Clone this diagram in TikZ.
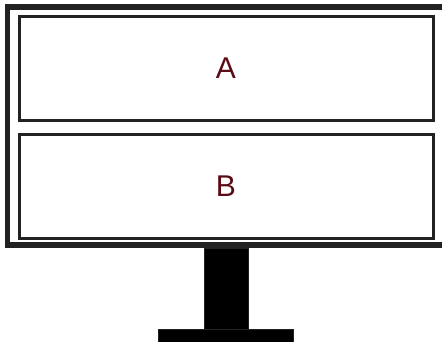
\documentclass[tikz,border=0pt]{standalone}
\usepackage{fontspec}
\setmainfont{Liberation Sans}
\definecolor{framec}{HTML}{222222}
\definecolor{txtc}{HTML}{5A0A14}
\begin{document}
\begin{tikzpicture}[x=1pt,y=-1pt,
  framebox/.style={draw=framec,line width=5.5pt},
  panel/.style={draw=framec,line width=3pt,fill=white,minimum width=414pt,minimum height=104pt,inner sep=0pt,
    font=\fontsize{30}{30}\selectfont,text=txtc},
  standpart/.style={draw=framec,line width=1pt,fill=black}]
\useasboundingbox (0,0) rectangle (442,342);
\begin{scope}
\clip (0,0) rectangle (442,342);
\draw[framebox] (7.5,7) rectangle (450,245);
\node[panel] (A) at (226,68.5) {A};
\node[panel] (B) at (226,186.5) {B};
\draw[standpart] (204.5,248.5) rectangle (248.5,329);
\draw[standpart] (158.5,329) rectangle (293.5,350);
\end{scope}
\end{tikzpicture}
\end{document}
